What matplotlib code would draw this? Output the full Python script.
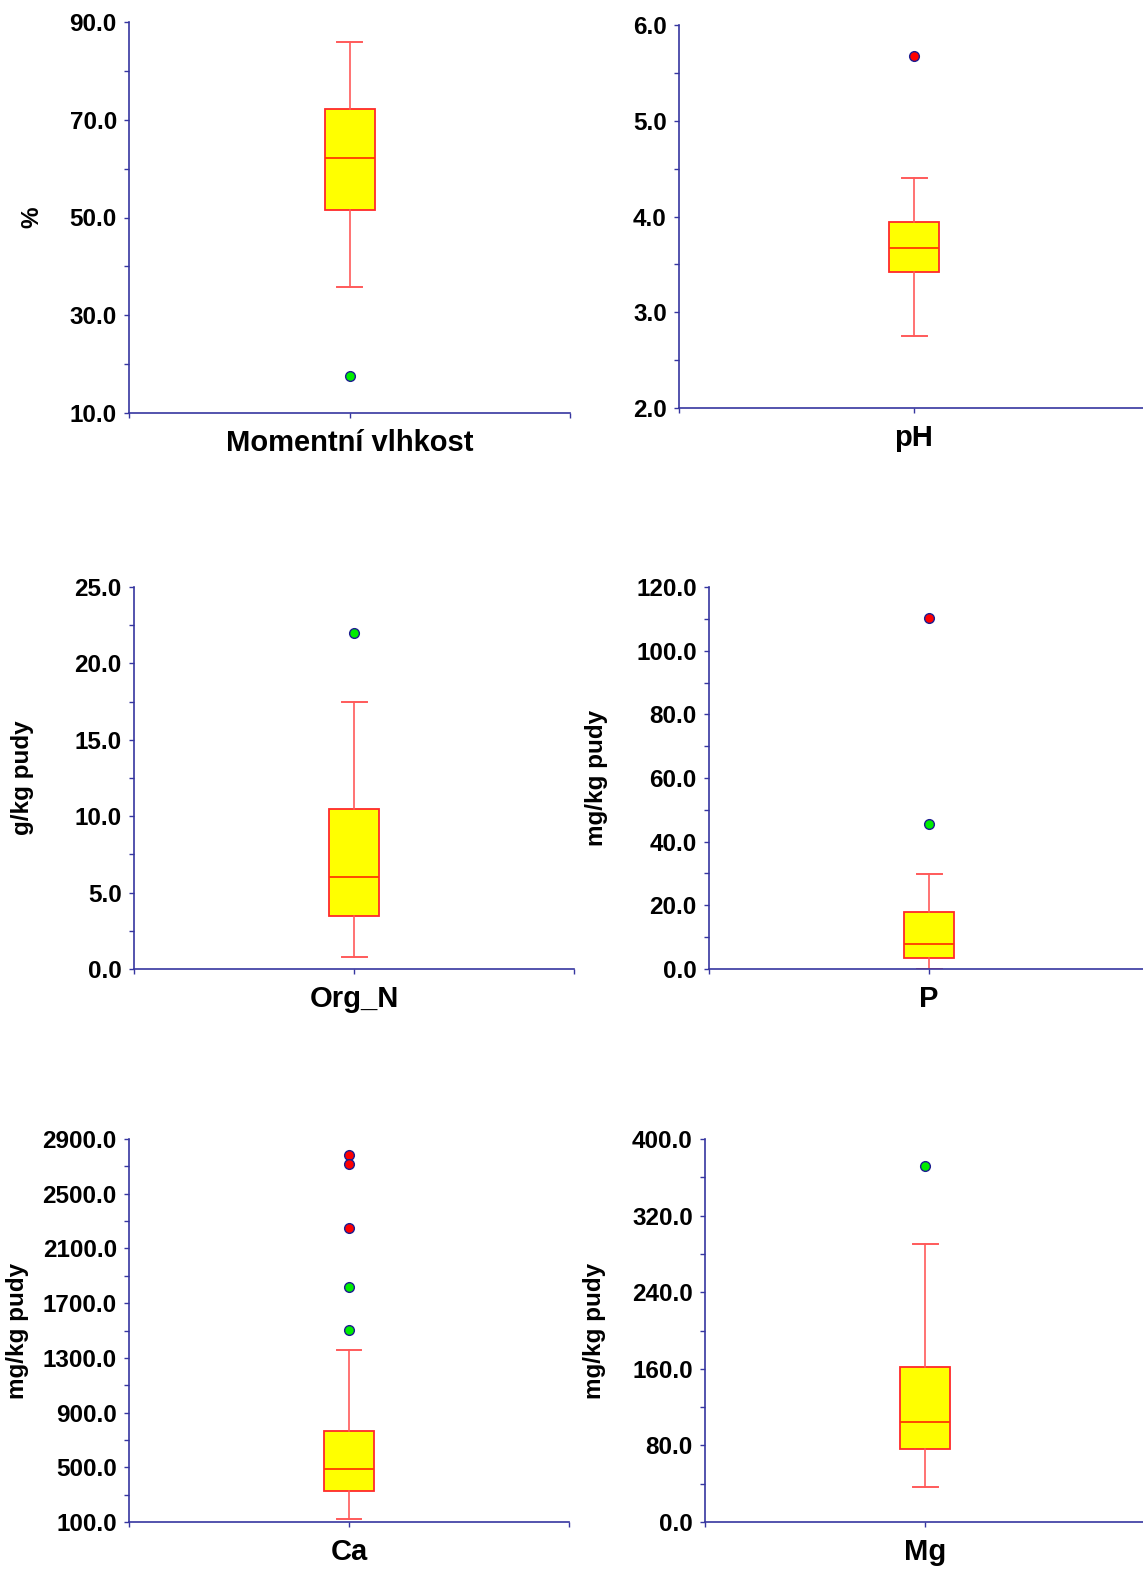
import numpy as np
import matplotlib
matplotlib.use("Agg")
import matplotlib.pyplot as plt
from matplotlib.ticker import FormatStrFormatter

plt.rcParams["font.family"] = ["Liberation Sans", "DejaVu Sans"]
plt.rcParams["font.weight"] = "bold"

# Box plot summaries for each soil variable
names = ["Momentní vlhkost", "pH", "Org_N", "P", "Ca", "Mg"]
units = ["%", "", "g/kg pudy", "mg/kg pudy", "mg/kg pudy", "mg/kg pudy"]
whisker_low = [35.8, 2.75, 0.78, 0.0, 125.0, 37.0]
quartile_1 = [51.6, 3.42, 3.48, 3.3, 329.0, 76.0]
medians = [62.1, 3.67, 6.0, 8.0, 485.0, 104.0]
quartile_3 = [72.1, 3.94, 10.44, 17.9, 766.0, 162.0]
whisker_high = [86.0, 4.40, 17.47, 29.7, 1355.0, 290.0]
mild_outliers = [[17.6], [], [21.98], [45.4], [1815.0, 1504.0], [371.5]]
extreme_outliers = [[], [5.68], [], [110.3], [2785.0, 2718.0, 2250.0], []]

# Axis ranges
y_min = [10, 2, 0, 0, 100, 0]
y_max = [90, 6, 25, 120, 2900, 400]
y_step = [20, 1, 5, 20, 400, 80]

W, H = 1143, 1569
AXIS = "#3636a0"

# panel frames in pixels: left, right, top, bottom
panel_px = [
    (129, 570, 22, 413),
    (679, 1149, 25, 408),
    (134, 574, 587, 969),
    (709, 1149, 587, 969),
    (129, 569, 1139, 1522),
    (705, 1145, 1139, 1522),
]
ylabel_x = [32, None, 22, 597, 18, 595]

fig = plt.figure(figsize=(W / 100, H / 100), dpi=100)

for i, name in enumerate(names):
    left, right, top, bottom = panel_px[i]
    ax = fig.add_axes([left / W, 1 - bottom / H, (right - left) / W, (bottom - top) / H])
    span = right - left

    stats = [dict(
        whislo=whisker_low[i],
        q1=quartile_1[i],
        med=medians[i],
        q3=quartile_3[i],
        whishi=whisker_high[i],
        fliers=[],
    )]
    ax.bxp(
        stats,
        positions=[1],
        widths=[50 / span],
        capwidths=[25 / span],
        patch_artist=True,
        showfliers=False,
        manage_ticks=False,
        boxprops=dict(facecolor="#ffff00", edgecolor="#ff2a2a", linewidth=1.3),
        medianprops=dict(color="#ff3c00", linewidth=1.3),
        whiskerprops=dict(color="#ff5a5a", linewidth=1.2),
        capprops=dict(color="#ff5a5a", linewidth=1.4),
    )

    if mild_outliers[i]:
        ax.plot([1] * len(mild_outliers[i]), mild_outliers[i], "o",
                mfc="#00ee00", mec="#1c1c90", ms=7, mew=1.0, clip_on=False)
    if extreme_outliers[i]:
        ax.plot([1] * len(extreme_outliers[i]), extreme_outliers[i], "o",
                mfc="#ff0000", mec="#1c1c90", ms=7, mew=1.0, clip_on=False)

    ax.set_xlim(0.5, 1.5)
    ax.set_ylim(y_min[i], y_max[i])

    for side in ["top", "right"]:
        ax.spines[side].set_visible(False)
    for side in ["left", "bottom"]:
        ax.spines[side].set_color(AXIS)
        ax.spines[side].set_linewidth(1.2)

    # ticks counted from the bottom of the range
    step = y_step[i]
    ax.set_yticks(np.arange(y_min[i], y_max[i] + step / 4, step))
    ax.set_yticks(np.arange(y_min[i] + step / 2, y_max[i], step), minor=True)
    ax.yaxis.set_major_formatter(FormatStrFormatter("%.1f"))

    ax.set_xticks([1])
    ax.set_xticklabels([name])
    ax.set_xticks([0.5, 1.5], minor=True)

    ax.tick_params(axis="both", which="both", direction="out", length=3.8,
                   width=1.0, color=AXIS)
    ax.tick_params(axis="y", which="major", labelsize=17.5, pad=5.0)
    ax.tick_params(axis="x", which="major", labelsize=21, pad=8.0)
    for lab in ax.get_yticklabels() + ax.get_xticklabels():
        lab.set_fontweight("bold")

    if units[i]:
        fig.text(ylabel_x[i] / W, 1 - (top + bottom) / 2 / H, units[i],
                 rotation=90, ha="center", va="center",
                 fontsize=17.5, fontweight="bold")

fig.savefig("out.png", dpi=100)
